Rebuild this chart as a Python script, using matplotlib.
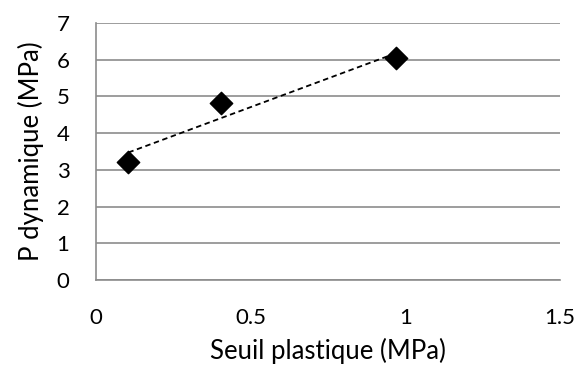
import numpy as np
import matplotlib.pyplot as plt

seuil = [0.105, 0.404, 0.97]
p_dyn = [3.21, 4.81, 6.04]
x_ticks = [0, 0.5, 1, 1.5]
x_labels = ['0', '0.5', '1', '1.5']
y_ticks = [0, 1, 2, 3, 4, 5, 6, 7]

plt.rcParams['font.family'] = ['Lato', 'DejaVu Sans']

fig = plt.figure(figsize=(5.78, 3.65), dpi=100)
ax = fig.add_axes([0.166, 0.233, 0.803, 0.704])

# linear trendline over the data range
coef = np.polyfit(seuil, p_dyn, 1)
xt = np.array([min(seuil), max(seuil)])
ax.plot(xt, np.polyval(coef, xt), color='black', linestyle=(0, (3, 2)), linewidth=1.3, zorder=2)

ax.scatter(seuil, p_dyn, marker='D', s=130, color='black', zorder=3)

ax.set_xlim(0, 1.5)
ax.set_ylim(0, 7)
ax.set_xticks(x_ticks)
ax.set_xticklabels(x_labels)
ax.set_yticks(y_ticks)
ax.yaxis.grid(True, color='#8c8c8c', linewidth=1.2)
ax.set_axisbelow(True)

for side in ['top', 'right']:
    ax.spines[side].set_visible(False)
for side in ['left', 'bottom']:
    ax.spines[side].set_color('#8c8c8c')
    ax.spines[side].set_linewidth(1.2)

ax.tick_params(length=0, labelsize=16)
ax.tick_params(axis='x', pad=20)
ax.tick_params(axis='y', pad=19)
ax.set_xlabel('Seuil plastique (MPa)', fontsize=18.5, labelpad=7)
ax.set_ylabel('P dynamique (MPa)', fontsize=18.5, labelpad=9)

fig.savefig('out.png', dpi=100)
